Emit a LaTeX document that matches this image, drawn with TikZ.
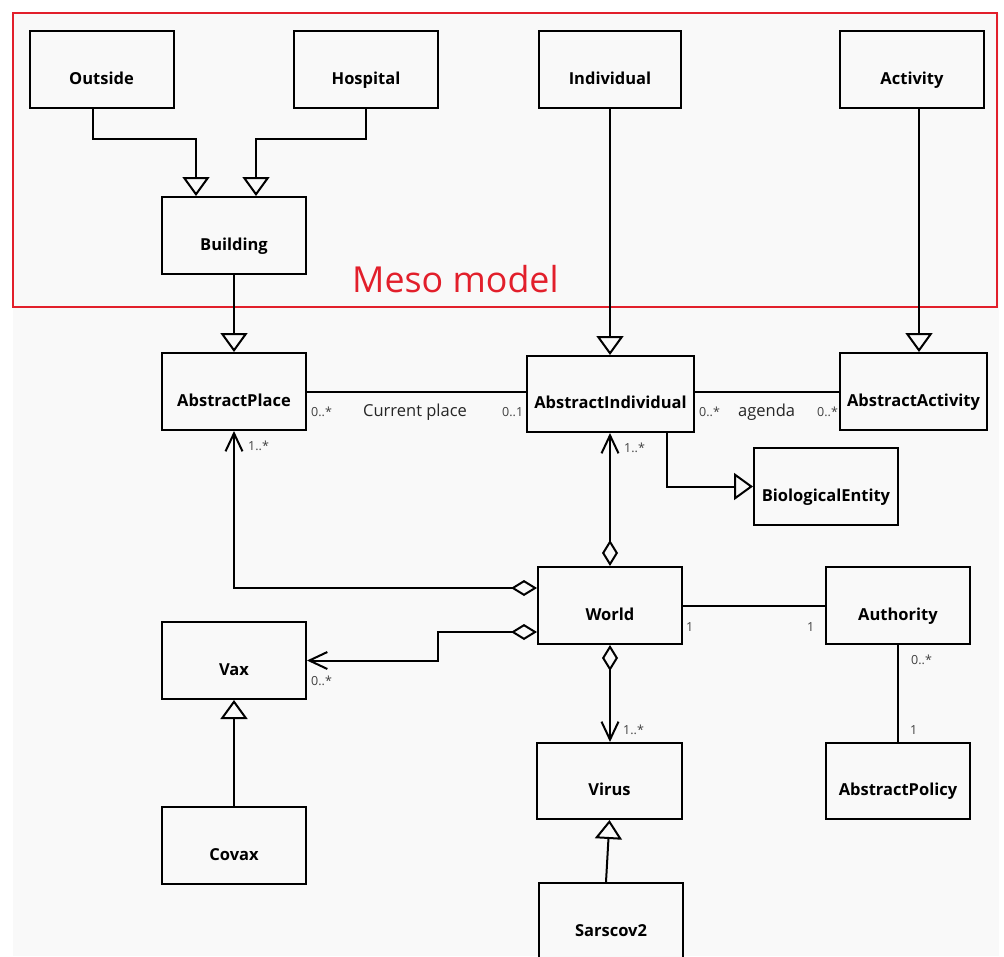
\documentclass[tikz,border=0pt]{standalone}
\usepackage{fontspec}
\setmainfont{Open Sans}
\usetikzlibrary{arrows.meta,calc}
\definecolor{bg}{HTML}{F9F9F9}
\definecolor{mesored}{HTML}{E21F2B}
\definecolor{multc}{HTML}{404040}
\begin{document}
\begin{tikzpicture}[x=1pt,y=-1pt,
  cls/.style={draw, line width=2pt, minimum width=144pt, minimum height=77pt, inner sep=0pt,
    font=\bfseries\fontsize{16.5}{19}\selectfont, text height=29.5pt, text depth=0pt, fill=bg},
  mult/.style={font=\fontsize{12.5}{14}\selectfont, text=multc, inner sep=0pt, anchor=base west},
  lbl/.style={font=\fontsize{16.5}{19}\selectfont, text=black!85, inner sep=0pt, anchor=base west},
  conn/.style={line width=2pt},
  gen/.style={conn, -{Triangle[open, length=19pt, width=27pt]}},
  agg/.style={conn, {Diamond[open, length=26pt, width=16pt]}-{Straight Barb[length=18pt, width=17pt]}},
  nav/.style={conn, -{Straight Barb[length=18pt, width=17pt]}}
]
\useasboundingbox (0,0) rectangle (1004,956);
\fill[white] (0,0) rectangle (1004,956);
\fill[bg] (13,13) rectangle (999,956);
\begin{scope}
\clip (0,0) rectangle (1004,956);
% Meso model frame
\draw[mesored, line width=2.5pt] (13,13) rectangle (997,307);
\node[font=\fontsize{35.8}{40}\selectfont, text=mesored, inner sep=0pt, anchor=base west] (meso) at (352,292) {Meso model};

% classes
\node[cls] (O)  at (101.5,69.5) {Outside};
\node[cls] (H)  at (366,69.5) {Hospital};
\node[cls, minimum width=142pt] (I)  at (610,69.5) {Individual};
\node[cls] (Ac) at (912,69.5) {Activity};
\node[cls] (B)  at (234,235.5) {Building};
\node[cls] (AP) at (234,391.5) {AbstractPlace};
\node[cls, minimum width=167pt, minimum height=76pt] (AI) at (610.5,394) {AbstractIndividual};
\node[cls, minimum width=147pt] (AA) at (913.5,391.5) {AbstractActivity};
\node[cls] (BE) at (826,486.5) {BiologicalEntity};
\node[cls] (W)  at (610,605.5) {World};
\node[cls] (Au) at (898,605.5) {Authority};
\node[cls] (V)  at (234,660.5) {Vax};
\node[cls] (Co) at (234,845.5) {Covax};
\node[cls, minimum width=145pt, minimum height=76pt] (Vi) at (609.5,781) {Virus};
\node[cls] (S)  at (611,921.5) {Sarscov2};
\node[cls, minimum height=76pt] (Po) at (898,781) {AbstractPolicy};

% generalisations
\draw[gen] ([xshift=-8.5pt]O.south) -- ++(0,30) -| ([xshift=-38pt]B.north);
\draw[gen] (H.south) -- ++(0,30) -| ([xshift=22pt]B.north);
\draw[gen] (B.south) -- (AP.north);
\draw[gen] (I.south) -- (I.south |- AI.north);
\draw[gen] ([xshift=7pt]Ac.south) -- ([xshift=7pt]Ac.south |- AA.north);
\draw[gen] ([xshift=-28pt]AI.south east) |- (BE.west);
\draw[gen] (Co.north) -- (V.south);
\draw[gen] ([xshift=-5pt]S.north) -- (Vi.south);

% associations
\draw[conn] (AP.east) -- (AP.east -| AI.west);
\draw[conn] (AA.west) -- (AA.west -| AI.east);
\draw[conn] (W.east) -- (Au.west);
\draw[conn] (Au.south) -- (Po.north);

% aggregations
\draw[agg] (W.north) -- (W.north |- AI.south);
\draw[agg] ([yshift=17.5pt]W.west) -| (AP.south);
\draw[agg] ([yshift=-26.5pt]W.west) -| ($(V.east)+(131,0)$) -- (V.east);
\draw[agg] (W.south) -- (W.south |- Vi.north);
\end{scope}

% labels
\node[mult] (m1) at (311,416) {0..*};
\node[lbl]  (l1) at (363,416) {Current place};
\node[mult] (m2) at (502,416) {0..1};
\node[mult] (m3) at (699,416) {0..*};
\node[lbl]  (l2) at (738,416) {agenda};
\node[mult] (m4) at (817,416) {0..*};
\node[mult] (m5) at (248,450) {1..*};
\node[mult] (m6) at (311,685) {0..*};
\node[mult] (m7) at (624,452) {1..*};
\node[mult] (m8) at (686,631) {1};
\node[mult] (m9) at (807,631) {1};
\node[mult] (m10) at (623,734) {1..*};
\node[mult] (m11) at (911,664) {0..*};
\node[mult] (m12) at (910,734) {1};
\end{tikzpicture}
\end{document}
